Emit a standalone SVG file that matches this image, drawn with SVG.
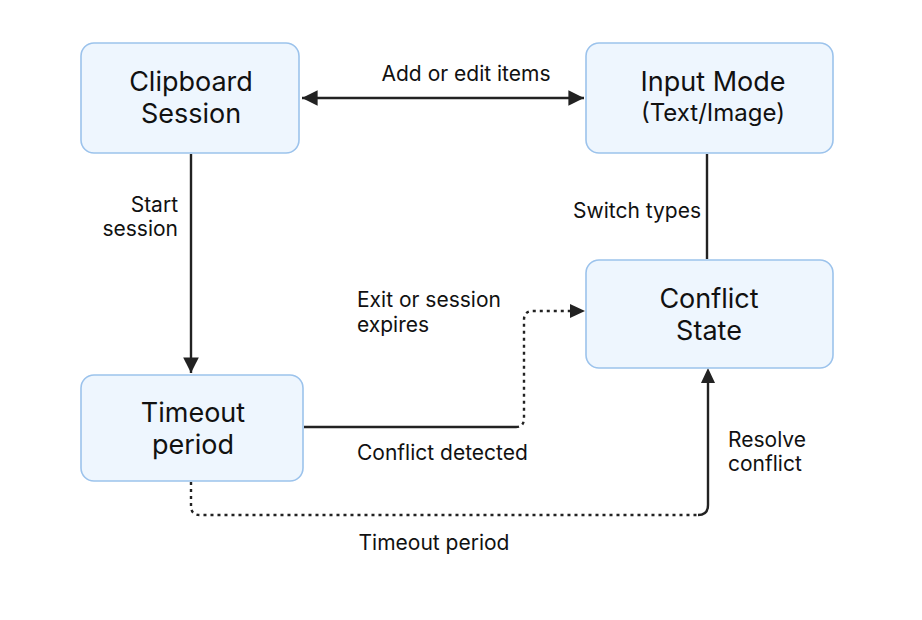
<svg xmlns="http://www.w3.org/2000/svg" width="922" height="620" viewBox="0 0 922 620">
<defs>
<style>
.node{fill:#eef6fe;stroke:#9cc3ec;stroke-width:1.6}
.nt{font-family:"Inter","Liberation Sans",sans-serif;font-size:27px;fill:#111;text-anchor:middle}
.nt2{font-family:"Inter","Liberation Sans",sans-serif;font-size:24px;fill:#111;text-anchor:middle}
.lb{font-family:"Inter","Liberation Sans",sans-serif;font-size:21px;fill:#111}
.ln{fill:none;stroke:#222;stroke-width:2.4}
.dot{fill:none;stroke:#222;stroke-width:2.4;stroke-dasharray:3 4}
</style>
<marker id="ahb" viewBox="0 0 10 10" refX="10" refY="5" markerWidth="6.5" markerHeight="6.5" orient="auto-start-reverse">
<path d="M0,0 L10,5 L0,10 z" fill="#222"/>
</marker>
</defs>
<rect width="922" height="620" fill="#fff"/>
<g id="connectors">
<path class="ln" d="M302,98 L584,98" marker-start="url(#ahb)" marker-end="url(#ahb)"/>
<path class="ln" d="M191,154 L191,373" marker-end="url(#ahb)"/>
<path class="ln" d="M707,154 L707,259"/>
<path class="ln" d="M304,427 L516,427"/>
<path class="dot" d="M516,427 Q524,427 524,418 L524,320 Q524,311 533,311 L572,311"/>
<path d="M570,304 L585,311 L570,318 z" fill="#222"/>
<path class="dot" d="M191,482 L191,506 Q191,515 200,515 L698,515"/>
<path class="ln" d="M698,515 Q708,515 708,505 L708,382"/>
<path d="M701,383 L708,368 L715,383 z" fill="#222"/>
</g>
<g id="clipboard-session">
<rect class="node" x="81" y="43" width="218" height="110" rx="13"/>
<text class="nt" x="191" y="91">Clipboard</text>
<text class="nt" x="191" y="123">Session</text>
</g>
<g id="input-mode">
<rect class="node" x="586" y="43" width="247" height="110" rx="13"/>
<text class="nt" x="713" y="91">Input Mode</text>
<text class="nt2" x="713" y="121">(Text/Image)</text>
</g>
<g id="conflict-state">
<rect class="node" x="586" y="260" width="247" height="108" rx="13"/>
<text class="nt" x="709" y="308">Conflict</text>
<text class="nt" x="709" y="340">State</text>
</g>
<g id="timeout-period">
<rect class="node" x="81" y="375" width="222" height="106" rx="13"/>
<text class="nt" x="193" y="422">Timeout</text>
<text class="nt" x="193" y="454">period</text>
</g>
<g id="labels">
<text class="lb" x="466" y="81" text-anchor="middle">Add or edit items</text>
<text class="lb" x="178" y="212" text-anchor="end">Start</text>
<text class="lb" x="178" y="236" text-anchor="end">session</text>
<text class="lb" x="573" y="218">Switch types</text>
<text class="lb" x="357" y="307">Exit or session</text>
<text class="lb" x="357" y="332">expires</text>
<text class="lb" x="357" y="460">Conflict detected</text>
<text class="lb" x="728" y="447">Resolve</text>
<text class="lb" x="728" y="471">conflict</text>
<text class="lb" x="434" y="550" text-anchor="middle">Timeout period</text>
</g>
</svg>
